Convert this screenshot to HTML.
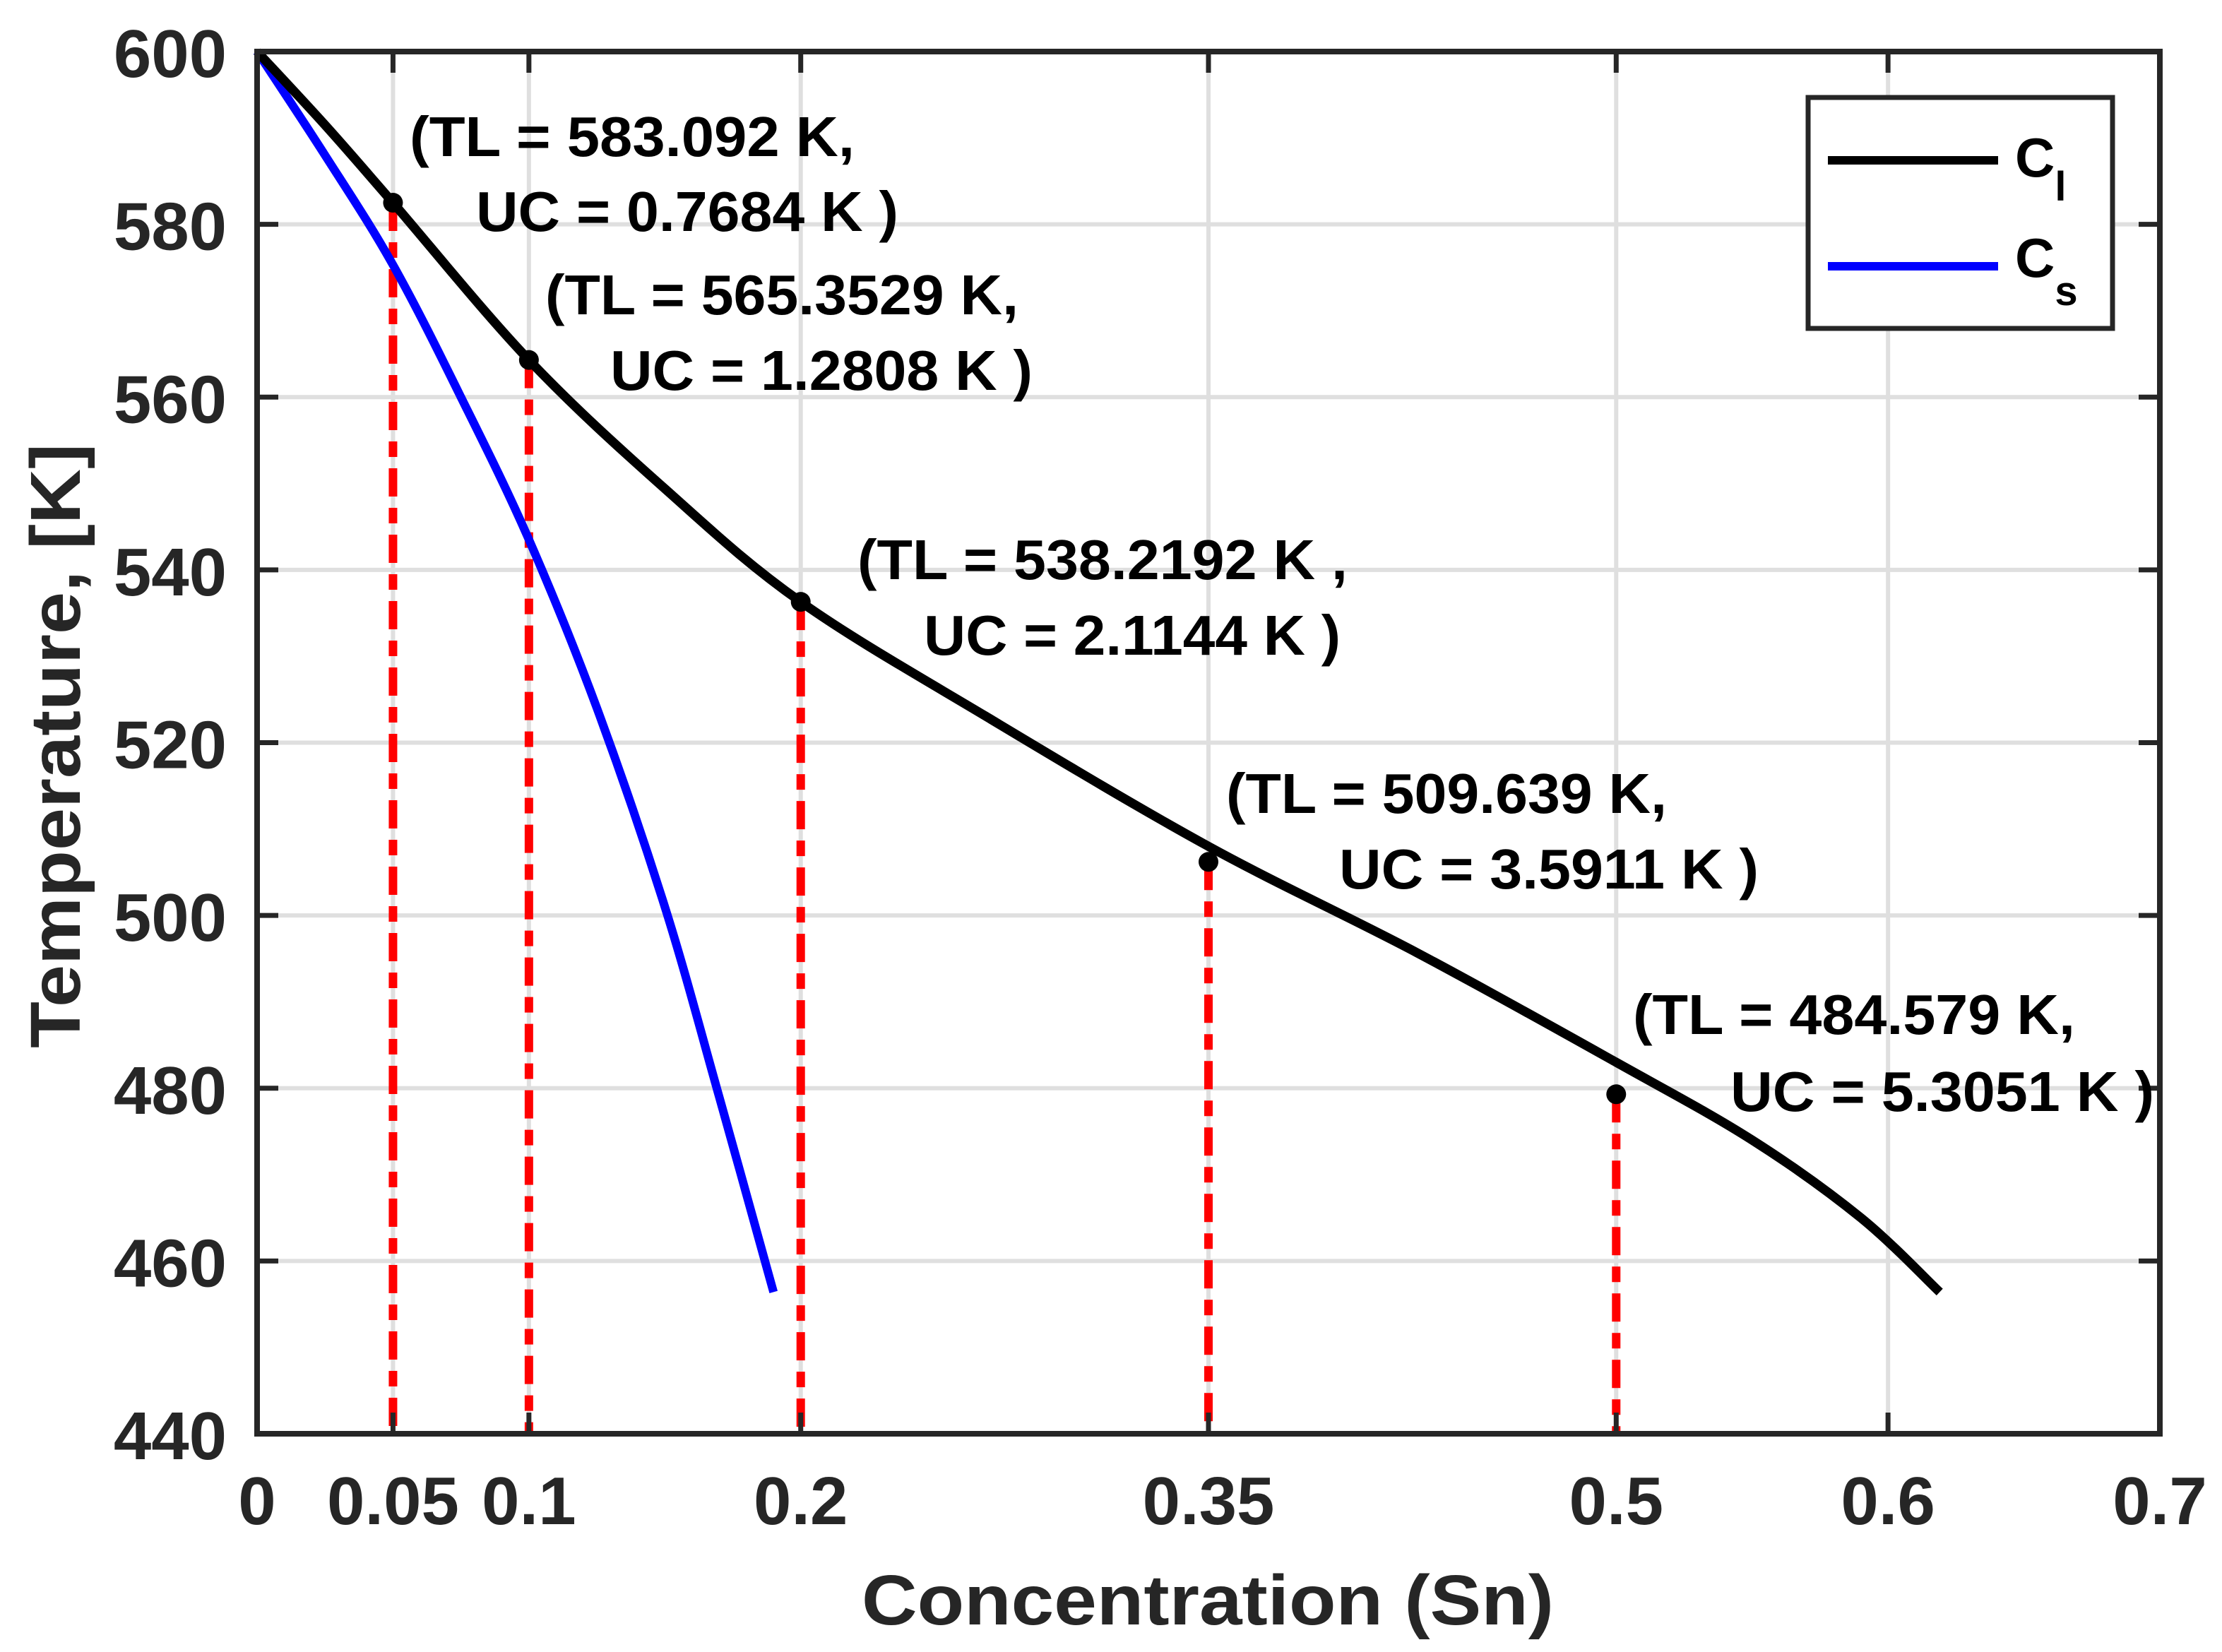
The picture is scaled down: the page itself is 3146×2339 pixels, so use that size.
<!DOCTYPE html>
<html><head><meta charset="utf-8"><style>
html,body{margin:0;padding:0;background:#fff;}
svg{display:block;font-family:"Liberation Sans",Arial,sans-serif;font-weight:bold;}
</style></head><body>
<svg id="chart" width="3146" height="2339" viewBox="0 0 3146 2339" xmlns="http://www.w3.org/2000/svg">
<g id="grid"></g>
<g id="series"></g>
<g id="axes"></g>
<g id="notes"></g>
<text x="1710" y="2300" font-size="100" text-anchor="middle" textLength="980" lengthAdjust="spacingAndGlyphs" fill="#262626">Concentration (Sn)</text>
<text transform="translate(113,1056) rotate(-90)" font-size="100" text-anchor="middle" textLength="856" lengthAdjust="spacingAndGlyphs" fill="#262626">Temperature, [K]</text>
<g>
<rect x="2560" y="138" width="431" height="327" fill="#fff" stroke="#262626" stroke-width="7"/>
<line x1="2588" y1="227" x2="2829" y2="227" stroke="#000" stroke-width="12"/>
<text x="2853" y="250" font-size="78" fill="#000">C<tspan font-size="58" dy="34">l</tspan></text>
<line x1="2588" y1="377" x2="2829" y2="377" stroke="#0000ff" stroke-width="12"/>
<text x="2853" y="392" font-size="78" fill="#000">C<tspan font-size="58" dy="40">s</tspan></text>
</g>
</svg>
<script>
const xTicks=[0,0.05,0.1,0.2,0.35,0.5,0.6,0.7];
const xTickLabels=["0","0.05","0.1","0.2","0.35","0.5","0.6","0.7"];
const yTicks=[440,460,480,500,520,540,560,580,600];
const liqX=[0,0.025,0.05,0.1,0.15,0.2,0.27,0.35,0.4266,0.5,0.55,0.59,0.619];
const liqT=[600,591.5,582.5,564.3,549.4,536.3,522.7,508,495.7,483,474,465,456.4];
const solX=[0,0.025,0.05,0.075,0.1,0.125,0.15,0.17,0.19];
const solT=[600,588,575.3,560,543.5,524,501,479,456.4];
const markX=[0.05,0.1,0.2,0.35,0.5];
const markT=[582.5,564.3,536.3,506.2,479.3];
const noteTL=["(TL = 583.092 K,","(TL = 565.3529 K,","(TL = 538.2192 K ,","(TL = 509.639 K,","(TL = 484.579 K,"];
const noteUC=["UC = 0.7684 K )","UC = 1.2808 K )","UC = 2.1144 K )","UC = 3.5911 K )","UC = 5.3051 K )"];
const L=364,R=3058,T=73,B=2030;
const sx=v=>L+(v-0)/(0.7-0)*(R-L);
const sy=v=>B-(v-440)/(600-440)*(B-T);
const NS="http://www.w3.org/2000/svg";
function mk(tag,parent,attrs){const e=document.createElementNS(NS,tag);for(const k in attrs)e.setAttribute(k,attrs[k]);parent.appendChild(e);return e;}
const grid=document.getElementById('grid'),axes=document.getElementById('axes'),series=document.getElementById('series'),notes=document.getElementById('notes');
xTicks.forEach((v,i)=>{
 const g=mk('line',grid,{x1:sx(v),y1:T,x2:sx(v),y2:B,stroke:'#dfdfdf','stroke-width':6});
 
 
 const t=mk('line',axes,{x1:sx(v),y1:B,x2:sx(v),y2:B-30,stroke:'#262626','stroke-width':7});
 
 
 const t2=mk('line',axes,{x1:sx(v),y1:T,x2:sx(v),y2:T+30,stroke:'#262626','stroke-width':7});
 
 
 const lb=mk('text',axes,{x:sx(v),y:2158,'font-size':96,'text-anchor':'middle',fill:'#262626'});
 lb.textContent=xTickLabels[i];
 
 
});
yTicks.forEach(v=>{
 const g=mk('line',grid,{x1:L,y1:sy(v),x2:R,y2:sy(v),stroke:'#dfdfdf','stroke-width':6});
 
 
 const t=mk('line',axes,{x1:L,y1:sy(v),x2:L+30,y2:sy(v),stroke:'#262626','stroke-width':7});
 
 
 const t2=mk('line',axes,{x1:R,y1:sy(v),x2:R-30,y2:sy(v),stroke:'#262626','stroke-width':7});
 
 
 const lb=mk('text',axes,{x:321,y:sy(v)+36,'font-size':96,'text-anchor':'end',fill:'#262626'});
 lb.textContent=String(v);
 
 
});
const frame=mk('rect',axes,{x:L,y:T,width:R-L,height:B-T,fill:'none',stroke:'#262626','stroke-width':8});


markX.forEach((v,i)=>{
 const d=mk('line',series,{x1:sx(v),y1:sy(markT[i]),x2:sx(v),y2:B,stroke:'#ff0000','stroke-width':12,'stroke-dasharray':'40 16 22 16'});
 
 
});
function smooth(xs,ys){
 const P=xs.map((v,i)=>[sx(v),sy(ys[i])]);
 let d='M'+P[0][0].toFixed(1)+' '+P[0][1].toFixed(1);
 for(let i=0;i<P.length-1;i++){
  const p0=P[i-1]||P[i],p1=P[i],p2=P[i+1],p3=P[i+2]||P[i+1];
  const c1=[p1[0]+(p2[0]-p0[0])/6,p1[1]+(p2[1]-p0[1])/6];
  const c2=[p2[0]-(p3[0]-p1[0])/6,p2[1]-(p3[1]-p1[1])/6];
  d+=' C'+c1[0].toFixed(1)+' '+c1[1].toFixed(1)+' '+c2[0].toFixed(1)+' '+c2[1].toFixed(1)+' '+p2[0].toFixed(1)+' '+p2[1].toFixed(1);
 }
 return d;
}
const sol=mk('path',series,{d:smooth(solX,solT),fill:'none',stroke:'#0000ff','stroke-width':12,'stroke-linejoin':'round'});


const liq=mk('path',series,{d:smooth(liqX,liqT),fill:'none',stroke:'#000','stroke-width':13,'stroke-linejoin':'round'});


const notePos=[[580,221,630,674,327,598],[772,445,670,864,552,598],[1214,820,694,1308,927,590],[1736,1151,624,1896,1258,594],[2312,1464,626,2450,1573,600]];
markX.forEach((v,i)=>{
 const c=mk('circle',series,{cx:sx(v),cy:sy(markT[i]),r:14,fill:'#000'});
 
 
 const p=notePos[i];
 const a=mk('text',notes,{x:p[0],y:p[1],'font-size':80,textLength:p[2],lengthAdjust:'spacingAndGlyphs',fill:'#000'});
 a.textContent=noteTL[i];
 
 
 const b=mk('text',notes,{x:p[3],y:p[4],'font-size':80,textLength:p[5],lengthAdjust:'spacingAndGlyphs',fill:'#000'});
 b.textContent=noteUC[i];
 
 
});
</script>
</body></html>
